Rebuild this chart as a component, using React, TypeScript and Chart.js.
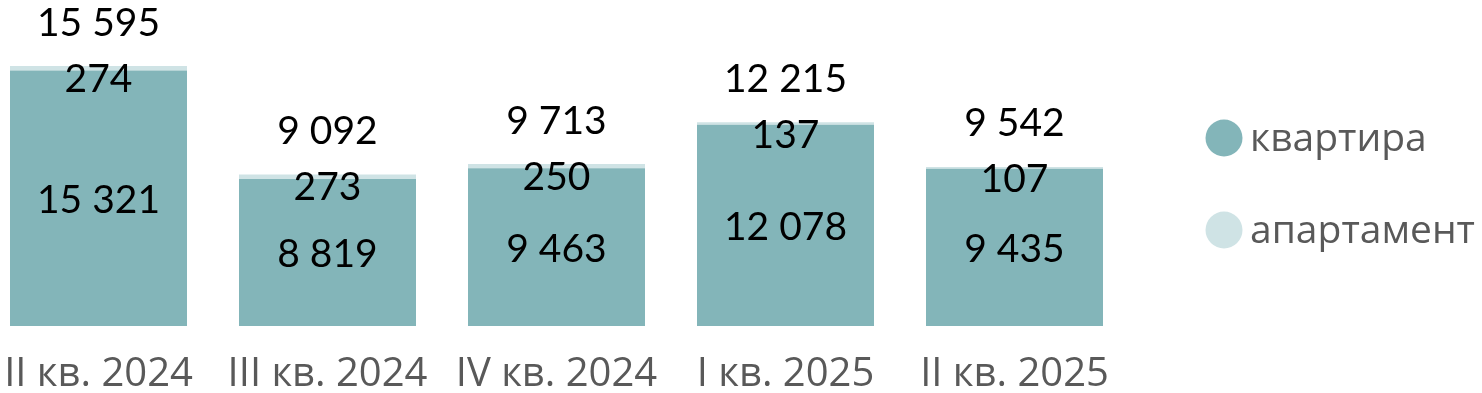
import React, { useEffect, useRef } from "react";
import { Chart, registerables } from "chart.js";

Chart.register(...registerables);

const categories = ["II кв. 2024", "III кв. 2024", "IV кв. 2024", "I кв. 2025", "II кв. 2025"];
const flats = [15321, 8819, 9463, 12078, 9435];
const apartments = [274, 273, 250, 137, 107];
const totals = [15595, 9092, 9713, 12215, 9542];
const seriesNames = ["квартира", "апартамент"];

const COLOR_FLAT = "#83B5B9";
const COLOR_APT = "#CFE3E5";
const OFFSET_X = 16;

const fmt = (v: number) => String(v).replace(/\B(?=(\d{3})+(?!\d))/g, " ");

const labelsPlugin = {
  id: "customLabels",
  afterDatasetsDraw(chart: any) {
    const ctx = chart.ctx;
    ctx.save();
    ctx.textAlign = "center";
    ctx.textBaseline = "middle";
    ctx.fillStyle = "#000000";
    ctx.font = "39px Lato";
    const m0 = chart.getDatasetMeta(0);
    const m1 = chart.getDatasetMeta(1);
    m0.data.forEach((bar: any, i: number) => {
      const p = bar.getProps(["x", "y", "base"], true);
      ctx.fillText(fmt(flats[i]), p.x, (p.y + p.base) / 2 + 2);
    });
    m1.data.forEach((bar: any, i: number) => {
      const p = bar.getProps(["x", "y", "base"], true);
      ctx.fillText(fmt(apartments[i]), p.x, p.y + 13);
      ctx.fillText(fmt(totals[i]), p.x, p.y - 43);
    });
    // legend
    const items = [
      { name: seriesNames[0], color: COLOR_FLAT, y: 138 },
      { name: seriesNames[1], color: COLOR_APT, y: 230 },
    ];
    ctx.textAlign = "left";
    ctx.font = "39px 'Open Sans'";
    items.forEach((it) => {
      ctx.beginPath();
      ctx.fillStyle = it.color;
      ctx.arc(1224 + OFFSET_X, it.y, 18.5, 0, Math.PI * 2);
      ctx.fill();
      ctx.fillStyle = "#595959";
      ctx.fillText(it.name, 1250 + OFFSET_X, it.y + 2);
    });
    ctx.restore();
  },
};

export default function App() {
  const ref = useRef<HTMLCanvasElement | null>(null);
  useEffect(() => {
    if (!ref.current) return;
    const chart = new Chart(ref.current, {
      type: "bar",
      data: {
        labels: categories,
        datasets: [
          { label: seriesNames[0], data: flats, backgroundColor: COLOR_FLAT, borderWidth: 0 },
          { label: seriesNames[1], data: apartments, backgroundColor: COLOR_APT, borderWidth: 0 },
        ],
      },
      options: {
        animation: false,
        responsive: false,
        maintainAspectRatio: false,
        layout: { padding: { left: 0, right: 1498 - 1145, top: 0, bottom: 0 } },
        plugins: { legend: { display: false }, tooltip: { enabled: false } },
        datasets: { bar: { categoryPercentage: 1, barPercentage: 177 / 229 } },
        scales: {
          x: {
            stacked: true,
            grid: { display: false, drawTicks: false },
            border: { display: false },
            ticks: {
              color: "#595959",
              font: { family: "'Open Sans'", size: 40 },
              padding: 25,
              maxRotation: 0,
              autoSkip: false,
            },
            afterFit: (scale: any) => {
              scale.height = 67;
              scale.paddingLeft = 0;
              scale.paddingRight = 0;
            },
          },
          y: {
            stacked: true,
            display: false,
            min: 0,
            max: 19554,
          },
        },
      },
      plugins: [labelsPlugin],
    });
    return () => chart.destroy();
  }, []);
  return (
    <div style={{ position: "fixed", left: 0, top: 0, width: 1482, height: 393, overflow: "hidden", background: "#fff" }}>
      <canvas
        ref={ref}
        width={1498}
        height={393}
        style={{ position: "absolute", left: -OFFSET_X, top: 0, width: 1498, height: 393 }}
      />
    </div>
  );
}
